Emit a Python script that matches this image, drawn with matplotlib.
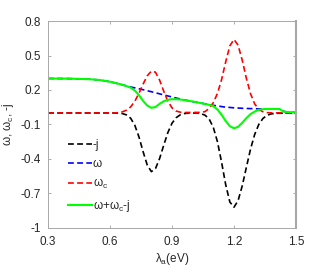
import numpy as np
import matplotlib
matplotlib.use("Agg")
import matplotlib.pyplot as plt

plt.rcParams['font.family'] = ['Liberation Sans', 'DejaVu Sans']
plt.rcParams['mathtext.default'] = 'regular'

# -j (black dashed)
lam_j = [0.30, 0.60, 0.64, 0.66, 0.68, 0.70, 0.72, 0.74, 0.76, 0.78, 0.80,
         0.82, 0.84, 0.86, 0.88, 0.90, 0.92, 0.94, 0.96, 0.98, 1.02, 1.04,
         1.06, 1.08, 1.10, 1.12, 1.14, 1.16, 1.18, 1.20, 1.22, 1.24, 1.26,
         1.28, 1.30, 1.32, 1.34, 1.36, 1.38, 1.40, 1.50]
neg_j = [0.0, 0.0, -0.001, -0.005, -0.017, -0.046, -0.107, -0.208, -0.336, -0.452, -0.51,
         -0.484, -0.396, -0.280, -0.170, -0.089, -0.041, -0.016, -0.005, -0.001, 0.0, -0.006,
         -0.019, -0.053, -0.125, -0.250, -0.428, -0.624, -0.774, -0.82, -0.762, -0.634, -0.473,
         -0.315, -0.188, -0.100, -0.048, -0.020, -0.008, -0.003, 0.0]

# omega (blue dashed)
lam_w = [0.30, 0.40, 0.50, 0.55, 0.60, 0.65, 0.70, 0.75, 0.80, 0.85, 0.90, 0.95,
         1.00, 1.05, 1.10, 1.15, 1.20, 1.25, 1.30, 1.35, 1.42, 1.44, 1.46, 1.50]
omega = [0.300, 0.299, 0.294, 0.287, 0.272, 0.250, 0.226, 0.207, 0.185, 0.162, 0.139, 0.117,
         0.099, 0.083, 0.067, 0.053, 0.045, 0.040, 0.037, 0.035, 0.034, 0.015, 0.007, 0.005]

# omega_c (red dashed)
lam_c = [0.30, 0.62, 0.64, 0.66, 0.68, 0.70, 0.72, 0.74, 0.76, 0.78, 0.80, 0.82,
         0.84, 0.86, 0.88, 0.90, 0.92, 0.94, 0.96, 1.00, 1.04, 1.06, 1.08, 1.10,
         1.12, 1.14, 1.16, 1.18, 1.20, 1.22, 1.24, 1.26, 1.28, 1.30, 1.32, 1.34,
         1.36, 1.38, 1.50]
omega_c = [0.0, 0.0, 0.003, 0.010, 0.025, 0.053, 0.102, 0.171, 0.251, 0.323, 0.364, 0.355,
           0.286, 0.189, 0.102, 0.045, 0.017, 0.007, 0.004, 0.005, 0.005, 0.012, 0.040, 0.090,
           0.170, 0.290, 0.445, 0.584, 0.640, 0.589, 0.459, 0.302, 0.169, 0.080, 0.032, 0.011,
           0.003, 0.001, 0.0]

# omega + omega_c - j (green)
lam_t = [0.30, 0.40, 0.50, 0.55, 0.60, 0.65, 0.68, 0.70, 0.72, 0.74, 0.76, 0.78,
         0.80, 0.82, 0.84, 0.86, 0.88, 0.90, 0.92, 0.95, 1.00, 1.05, 1.08, 1.10,
         1.12, 1.14, 1.16, 1.18, 1.20, 1.22, 1.24, 1.26, 1.28, 1.30, 1.32, 1.35,
         1.42, 1.44, 1.46, 1.50]
total = [0.300, 0.299, 0.294, 0.287, 0.272, 0.250, 0.234, 0.220, 0.195, 0.155, 0.105, 0.065,
         0.045, 0.052, 0.080, 0.102, 0.115, 0.120, 0.120, 0.115, 0.100, 0.082, 0.071, 0.060,
         0.030, -0.015, -0.070, -0.115, -0.133, -0.120, -0.085, -0.045, -0.010, 0.012, 0.028, 0.035,
         0.035, 0.012, 0.008, 0.006]

xticks = [0.3, 0.6, 0.9, 1.2, 1.5]
xticklabels = ['0.3', '0.6', '0.9', '1.2', '1.5']
yticks = [-1, -0.7, -0.4, -0.1, 0.2, 0.5, 0.8]
yticklabels = ['-1', '-0.7', '-0.4', '-0.1', '0.2', '0.5', '0.8']

fig = plt.figure(figsize=(3.27, 2.73), dpi=100)
ax = fig.add_axes([0.147, 0.165, 0.758, 0.758])

ax.plot(lam_j, neg_j, color='black', lw=1.2, ls=(0, (3.5, 2)), label='-j')
ax.plot(lam_w, omega, color='#0000ff', lw=1.2, ls=(0, (3.5, 2)), label='ω')
ax.plot(lam_c, omega_c, color='#ff0000', lw=1.2, ls=(0, (3.5, 2)), label='ω$_c$')
ax.plot(lam_t, total, color='#00ff00', lw=1.5, label='ω+ω$_c$-j')

ax.set_xlim(0.3, 1.5)
ax.set_ylim(-1, 0.8)
ax.set_xticks(xticks)
ax.set_xticklabels(xticklabels)
ax.set_yticks(yticks)
ax.set_yticklabels(yticklabels)
ax.tick_params(direction='in', top=True, right=True, length=2.5, width=0.6,
               labelsize=8.5, colors='#a0a0a0', labelcolor='#262626')
ax.tick_params(axis='x', pad=6)
ax.tick_params(axis='y', pad=5)
for s in ax.spines.values():
    s.set_color('#a8a8a8')
    s.set_linewidth(0.7)
ax.spines['right'].set_linewidth(1.5)

ax.set_xlabel('λ$_a$(eV)', fontsize=8.5, color='#262626', labelpad=2)
ax.set_ylabel('ω, ω$_c$, -j', fontsize=8.5, color='#262626')
ax.yaxis.set_label_coords(-0.13, 0.5)

leg = ax.legend(loc='upper left', bbox_to_anchor=(0.08, 0.43), frameon=False,
                fontsize=8.5, handlelength=2.0, handletextpad=0.1,
                labelspacing=0.6, borderpad=0, borderaxespad=0)
for t in leg.get_texts():
    t.set_color('#262626')

fig.savefig('out.png', dpi=100)
